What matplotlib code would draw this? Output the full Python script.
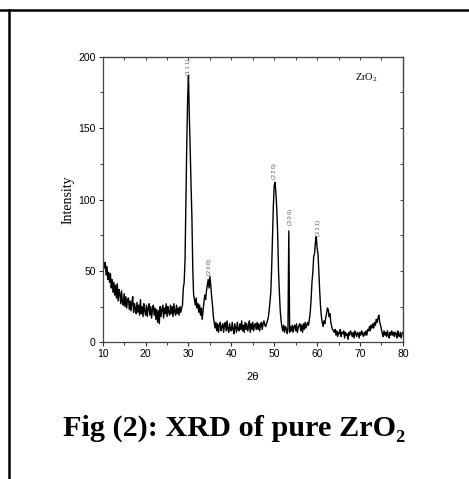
import numpy as np
import matplotlib
matplotlib.use('Agg')
from matplotlib import pyplot as plt
from matplotlib.lines import Line2D

plt.rcParams['mathtext.default'] = 'regular'

# scan: 10 to 80 deg, 0.2 deg step
start, step = 10.0, 0.2
intensity = [
    69, 55, 52, 56, 47, 53, 44, 49, 42, 48,   # 10-11.8
    38, 44, 35, 42, 33, 40, 31, 41, 29, 37,   # 12
    34, 27, 36, 28, 26, 34, 25, 32, 24, 30,   # 14
    31, 23, 29, 22, 28, 32, 21, 27, 24, 20,   # 16
    28, 21, 26, 19, 30, 20, 25, 18, 27, 22,   # 18
    19, 26, 18, 24, 27, 19, 25, 17, 23, 26,   # 20
    19, 24, 16, 23, 14, 22, 13, 25, 18, 23,   # 22
    26, 17, 24, 20, 27, 18, 25, 21, 19, 26,   # 24
    20, 25, 18, 27, 21, 19, 26, 20, 24, 19,   # 26
    25, 21, 24, 26, 38, 42, 58, 98, 138, 170,  # 28
    187, 158, 136, 110, 88, 52, 33, 30, 26, 31,  # 30
    24, 27, 21, 26, 19, 24, 16, 22, 28, 33,   # 32
    30, 36, 40, 44, 38, 46, 40, 32, 26, 18,   # 34
    14, 10, 14, 8, 13, 7, 12, 14, 8, 11,      # 36
    13, 7, 12, 14, 8, 15, 9, 7, 13, 9,        # 38
    8, 14, 9, 6, 13, 10, 7, 14, 9, 8,         # 40
    13, 9, 15, 8, 12, 7, 14, 9, 13, 8,        # 42
    11, 15, 7, 13, 9, 14, 8, 12, 13, 9,       # 44
    14, 9, 13, 8, 12, 14, 9, 13, 15, 12,      # 46
    11, 13, 15, 17, 22, 28, 35, 52, 74, 96,   # 48
    110, 112, 104, 93, 76, 50, 35, 22, 15, 11,  # 50
    8, 12, 7, 11, 10, 6, 9, 78, 7, 11,        # 52
    8, 12, 7, 11, 12, 8, 13, 7, 10, 12,       # 54
    13, 8, 12, 7, 13, 9, 14, 10, 12, 14,      # 56
    12, 16, 21, 30, 42, 49, 60, 62, 70, 74,   # 58
    66, 62, 50, 36, 25, 18, 14, 11, 15, 13,   # 60
    17, 20, 24, 23, 18, 20, 14, 11, 9, 8,     # 62
    7, 9, 5, 8, 4, 7, 6, 9, 4, 7,             # 64
    6, 8, 3, 7, 5, 6, 2, 7, 5, 8,             # 66
    6, 4, 7, 3, 8, 6, 4, 7, 6, 3,             # 68
    7, 5, 8, 6, 4, 7, 5, 8, 5, 9,             # 70
    8, 11, 8, 12, 10, 13, 10, 14, 12, 16,     # 72
    14, 17, 19, 14, 12, 9, 6, 4, 8, 5,        # 74
    7, 4, 8, 5, 3, 7, 5, 8, 5, 7,             # 76
    4, 7, 6, 3, 8, 5, 4, 7, 3, 6,             # 78
    7,                                        # 80
]
two_theta = start + step * np.arange(len(intensity))

# reflection labels
hkl = ['(1 1 1)', '(2 0 0)', '(2 2 0)', '(3 0 0)', '(3 1 1)']
hkl_x = [30.0, 35.0, 50.15, 53.7, 60.4]
hkl_y = [193, 53, 120, 88, 80]

fig = plt.figure(figsize=(4.69, 4.79), dpi=100)
ax = fig.add_axes([0.219, 0.2854, 0.640, 0.5962])
ax.plot(two_theta, intensity, color='black', lw=1.0)
ax.set_xlim(10, 80)
ax.set_ylim(0, 200)
ax.set_xticks(np.arange(10, 81, 10))
ax.set_xticks(np.arange(15, 80, 10), minor=True)
ax.set_yticks([0, 50, 100, 150, 200])
ax.set_yticks([25, 75, 125, 175], minor=True)
ax.tick_params(which='major', direction='out', length=3, width=0.8,
               labelsize=7.5, pad=2, color='#333')
ax.tick_params(which='minor', direction='out', length=2, width=0.7, color='#333')
for lab in ax.get_xticklabels() + ax.get_yticklabels():
    lab.set_family('Liberation Sans')
for s in ax.spines.values():
    s.set_color('#444')
    s.set_linewidth(0.9)

top = ax.secondary_xaxis('top')
top.set_xticks(np.arange(10, 81, 5))
top.tick_params(direction='in', length=2, width=0.7, labeltop=False, color='#444')
right = ax.secondary_yaxis('right')
right.set_yticks(np.arange(0, 201, 25))
right.tick_params(direction='in', length=2, width=0.7, labelright=False, color='#444')

for t, x, y in zip(hkl, hkl_x, hkl_y):
    ax.text(x, y, t, rotation=90, fontsize=4, color='#555', ha='center', va='center',
            family='Liberation Sans')

ax.text(68.8, 185, 'ZrO$_2$', fontsize=7.5, family='Liberation Serif', va='center')
ax.set_ylabel('Intensity', family='Liberation Serif', fontsize=10, labelpad=3)
ax.set_xlabel('2θ', family='Liberation Sans', fontsize=8, labelpad=9)

fig.text(0.5, 1 - 428 / 479, 'Fig (2): XRD of pure ZrO₂', ha='center', va='center',
         fontsize=21.8, fontweight='bold', family=['Liberation Serif', 'DejaVu Serif'])

# page frame lines
fig.add_artist(Line2D([0, 1], [1 - 9.5 / 479] * 2, color='black', lw=1.8))
fig.add_artist(Line2D([8.7 / 469] * 2, [0, 1 - 9.5 / 479], color='black', lw=1.8))

fig.savefig('out.png', dpi=100)
